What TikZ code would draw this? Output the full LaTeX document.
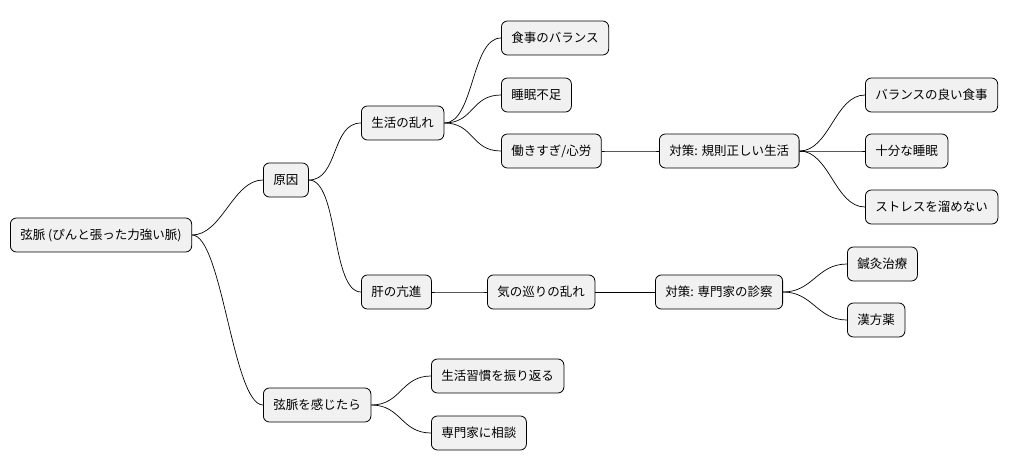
\documentclass[tikz,border=0pt]{standalone}
\usepackage{fontspec}
\setmainfont{Noto Sans CJK JP}
\begin{document}
\begin{tikzpicture}[x=1pt,y=-1pt,
  box/.style={draw=black,line width=0.8pt,fill={rgb,255:red,241;green,241;blue,241},rounded corners=6pt,
    minimum height=34pt,inner xsep=10pt,anchor=west,font=\fontsize{12.5}{14}\selectfont},
  lk/.style={line width=0.7pt}]
\useasboundingbox (0,0) rectangle (1022,471);
\node[box] (r) at (10,235) {弦脈 (ぴんと張った力強い脈)};
\node[box] (a) at (263,180) {原因};
\node[box] (b) at (263,405) {弦脈を感じたら};
\node[box] (a1) at (361,123) {生活の乱れ};
\node[box] (a2) at (361,292) {肝の亢進};
\node[box] (c1) at (501,38) {食事のバランス};
\node[box] (c2) at (501,95) {睡眠不足};
\node[box] (c3) at (501,151) {働きすぎ/心労};
\node[box] (d) at (659,151) {対策: 規則正しい生活};
\node[box] (d1) at (865,95) {バランスの良い食事};
\node[box] (d2) at (865,151) {十分な睡眠};
\node[box] (d3) at (865,207) {ストレスを溜めない};
\node[box] (e) at (487,292) {気の巡りの乱れ};
\node[box] (f) at (655,292) {対策: 専門家の診察};
\node[box] (f1) at (847,264) {鍼灸治療};
\node[box] (f2) at (847,320) {漢方薬};
\node[box] (b1) at (431,376) {生活習慣を振り返る};
\node[box] (b2) at (431,433) {専門家に相談};
\foreach \p/\c in {r/a,r/b,a/a1,a/a2,a1/c1,a1/c2,a1/c3,c3/d,d/d1,d/d2,d/d3,a2/e,e/f,f/f1,f/f2,b/b1,b/b2}
  \draw[lk] (\p.east) .. controls ([xshift=30]\p.east) and ([xshift=-30]\c.west) .. (\c.west);
\end{tikzpicture}
\end{document}
